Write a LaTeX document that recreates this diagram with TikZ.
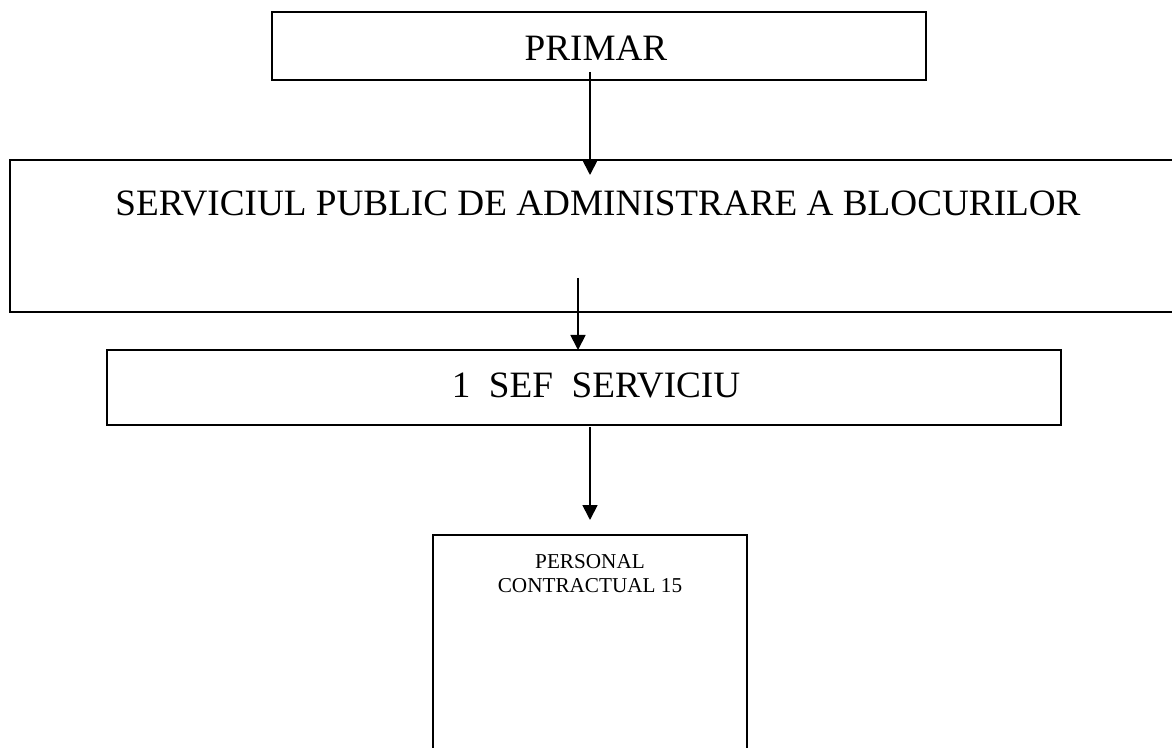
\documentclass[tikz,border=0pt]{standalone}
\usepackage{fontspec}
\setmainfont{Liberation Serif}
\usetikzlibrary{arrows.meta}
\tikzset{
    orgbox/.style={draw, line width=1pt, inner sep=0pt},
    bigtxt/.style={font=\fontsize{18.6}{22}\selectfont, inner sep=0pt},
    smalltxt/.style={font=\fontsize{10.6}{12}\selectfont, align=center, inner sep=0pt},
    link/.style={line width=0.9pt, -{Triangle[width=7.5pt,length=7.5pt]}}
}
\begin{document}
\begin{tikzpicture}[x=0.5pt,y=-0.5pt]
    \useasboundingbox (0,0) rectangle (1172,748);
    \node[orgbox, minimum width=327pt, minimum height=34pt] (primar) at (599,46) {};
    \node[bigtxt] (primartxt) at (596,48) {PRIMAR};
    \node[orgbox, minimum width=590pt, minimum height=76pt] (serviciu) at (600,236) {};
    \node[bigtxt] (serviciutxt) at (598,203) {SERVICIUL PUBLIC DE ADMINISTRARE A BLOCURILOR};
    \node[orgbox, minimum width=477pt, minimum height=37.5pt] (sef) at (584,387.5) {};
    \node[bigtxt] (seftxt) at (596,385) {1\ \ SEF\ \ SERVICIU};
    \node[orgbox, minimum width=157pt, minimum height=112.5pt] (personal) at (590,647.5) {};
    \node[smalltxt] (personaltxt) at (590,574) {PERSONAL\\CONTRACTUAL 15};
    \coordinate (p1) at (590,72);
    \coordinate (s1) at (590,175);
    \coordinate (p2) at (578,278);
    \coordinate (s2) at (578,350);
    \coordinate (p3) at (590,427);
    \coordinate (s3) at (590,520);
    \draw[link] (p1) -- (s1);
    \draw[link] (p2) -- (s2);
    \draw[link] (p3) -- (s3);
\end{tikzpicture}
\end{document}
